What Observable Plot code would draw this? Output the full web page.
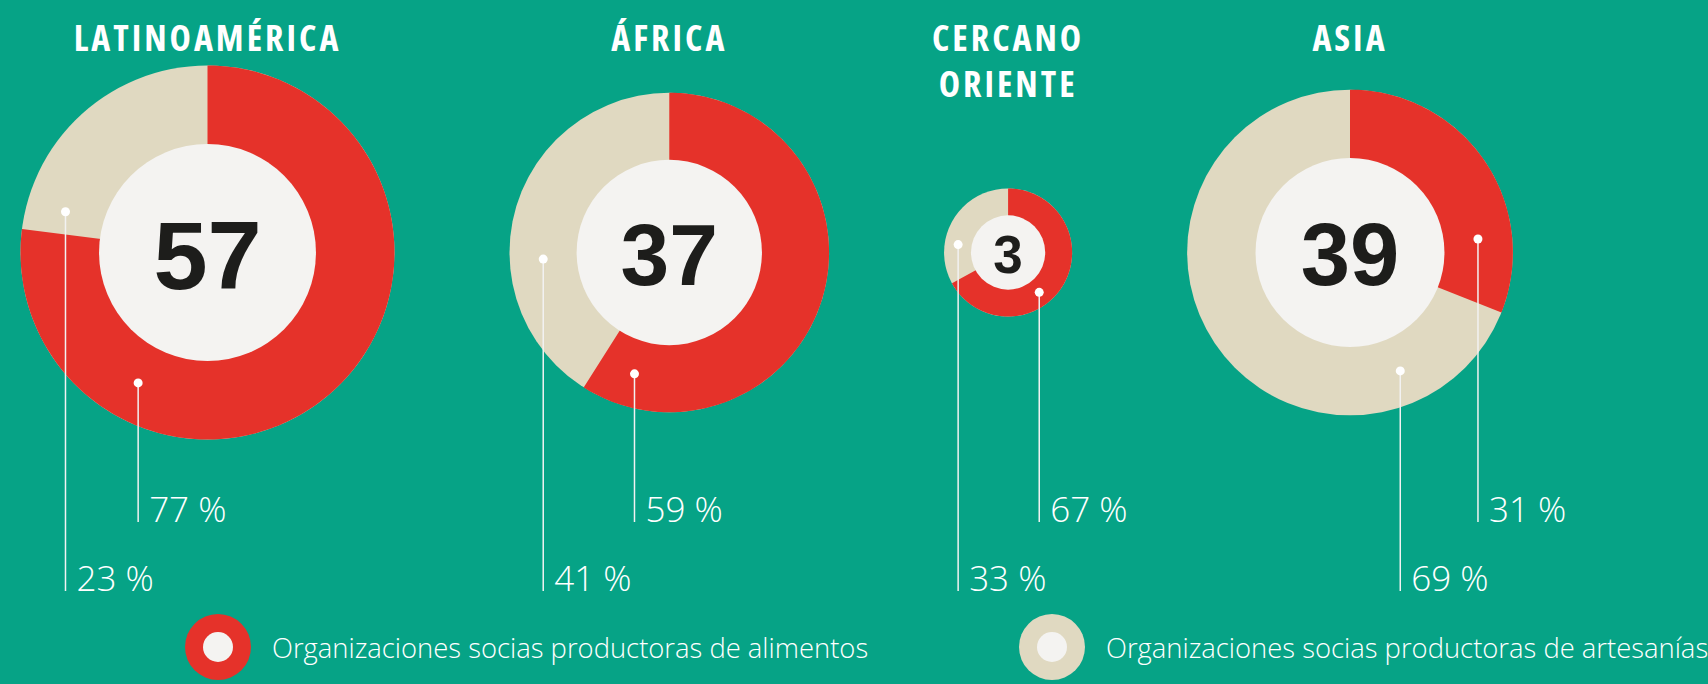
<!DOCTYPE html>
<html>
<head>
<meta charset="utf-8">
<script src="https://cdn.jsdelivr.net/npm/d3@7"></script>
<script src="https://cdn.jsdelivr.net/npm/@observablehq/plot@0.6"></script>
<style>
  html, body { margin: 0; padding: 0; background: #06a386; width: 1708px; height: 684px; overflow: hidden; }
  #chart svg { display: block; }
  #legend { position: relative; width: 1708px; height: 74px; font-family: "Open Sans", sans-serif; font-stretch: 100%; }
  .item { position: absolute; top: 0; height: 74px; display: flex; align-items: center; color: #fff; font-size: 27.4px; font-weight: 300; white-space: nowrap; }
  .sw { width: 66px; height: 66px; border-radius: 50%; display: flex; align-items: center; justify-content: center; margin-right: 21px; flex: none; }
  .sw i { width: 30px; height: 30px; border-radius: 50%; background: #f4f3f1; display: block; }
</style>
</head>
<body>
<div id="chart"></div>
<div id="legend"></div>
<script>
// ---- data ----
const regions = ["LATINOAMÉRICA", "ÁFRICA", "CERCANO\nORIENTE", "ASIA"];
const totals = [57, 37, 3, 39];
const foodShare = [77, 59, 67, 31];
const craftShare = [23, 41, 33, 69];
const seriesNames = ["Organizaciones socias productoras de alimentos", "Organizaciones socias productoras de artesanías"];
const seriesColors = ["#e5322a", "#e0d9c1"];

// ---- layout (annotation angles, degrees clockwise from top) ----
const foodAngle = [208, 196, 142, 84];
const craftAngle = [286, 267, 279, 157];

const W = 1708, H = 610, CY = 252, LEFT = 20, GAP = 115, RMAX = 187, HOLE = 0.58;
const FOOD_BASE = 521, CRAFT_BASE = 590;
const hole = "#f4f3f1", ink = "#1d1d1b";

const rad = d3.scalePow().exponent(0.364).domain([0, d3.max(totals)]).range([0, RMAX]);
let xcur = LEFT;
const rows = regions.map((name, i) => {
  const R = rad(totals[i]);
  const cx = xcur + R;
  xcur += 2 * R + GAP;
  return {name, total: totals[i], food: foodShare[i], craft: craftShare[i], R, r0: R * HOLE, cx, cy: CY, fs: 30 + 0.36 * R};
});

const wedge = rows.flatMap(d => {
  const end = d.food / 100 * 360;
  const pts = [{id: d.name, x: d.cx, y: d.cy}];
  const n = Math.ceil(end);
  for (let k = 0; k <= n; k++) {
    const a = Math.min(k, end) * Math.PI / 180;
    pts.push({id: d.name, x: d.cx + d.R * Math.sin(a), y: d.cy - d.R * Math.cos(a)});
  }
  return pts;
});

const labels = rows.flatMap((d, i) => {
  const mid = (d.R + d.r0) / 2;
  return [[foodAngle[i], d.food, FOOD_BASE], [craftAngle[i], d.craft, CRAFT_BASE]].map(([ang, v, base]) => {
    const a = ang * Math.PI / 180;
    return {x: d.cx + mid * Math.sin(a), y: d.cy - mid * Math.cos(a), base, text: v + " %"};
  });
});

const sans = "'Open Sans', sans-serif";

const plot = Plot.plot({
  width: W, height: H, margin: 0,
  x: {type: "identity", axis: null},
  y: {type: "identity", axis: null},
  r: {type: "identity"},
  style: {background: "transparent", overflow: "visible"},
  marks: [
    Plot.dot(rows, {x: "cx", y: "cy", r: "R", fill: seriesColors[1], stroke: "none"}),
    Plot.line(wedge, {x: "x", y: "y", z: "id", fill: seriesColors[0], stroke: "none", curve: "linear-closed"}),
    Plot.dot(rows, {x: "cx", y: "cy", r: "r0", fill: hole, stroke: "none"}),
    Plot.text(rows, {x: "cx", y: d => d.cy + 0.04 * d.fs + 1, text: d => String(d.total), fontSize: d => d.fs,
      fontWeight: 700, fill: ink, fontFamily: "'Liberation Sans', sans-serif", lineAnchor: "middle"}),
    Plot.text(rows, {x: "cx", y: 18, text: "name", lineAnchor: "top", lineHeight: 1.28, fontSize: 36,
      fontWeight: 700, fill: "#fff", fontFamily: sans}),
    Plot.ruleX(labels, {x: "x", y1: "y", y2: d => d.base + 1, stroke: "#f2f2f2", strokeWidth: 1.5}),
    Plot.dot(labels, {x: "x", y: "y", r: 4.5, fill: "#fff", stroke: "none"}),
    Plot.text(labels, {x: d => d.x + 11, y: "base", text: "text", textAnchor: "start", lineAnchor: "bottom",
      fontSize: 35, fontWeight: 300, fill: "#fff", fontFamily: sans})
  ]
});
const textGroups = plot.querySelectorAll("g[aria-label='text']");
textGroups[1].style.fontStretch = "87.5%";
textGroups[1].style.letterSpacing = "3px";
textGroups[2].style.fontStretch = "100%";
document.getElementById("chart").appendChild(plot);

// legend
const lefts = [185, 1019];
const legend = document.getElementById("legend");
seriesNames.forEach((name, i) => {
  const it = document.createElement("div");
  it.className = "item";
  it.style.left = lefts[i] + "px";
  const sw = document.createElement("span");
  sw.className = "sw";
  sw.style.background = seriesColors[i];
  sw.appendChild(document.createElement("i"));
  it.appendChild(sw);
  const t = document.createElement("span");
  t.textContent = name;
  it.appendChild(t);
  legend.appendChild(it);
});
</script>
</body>
</html>
